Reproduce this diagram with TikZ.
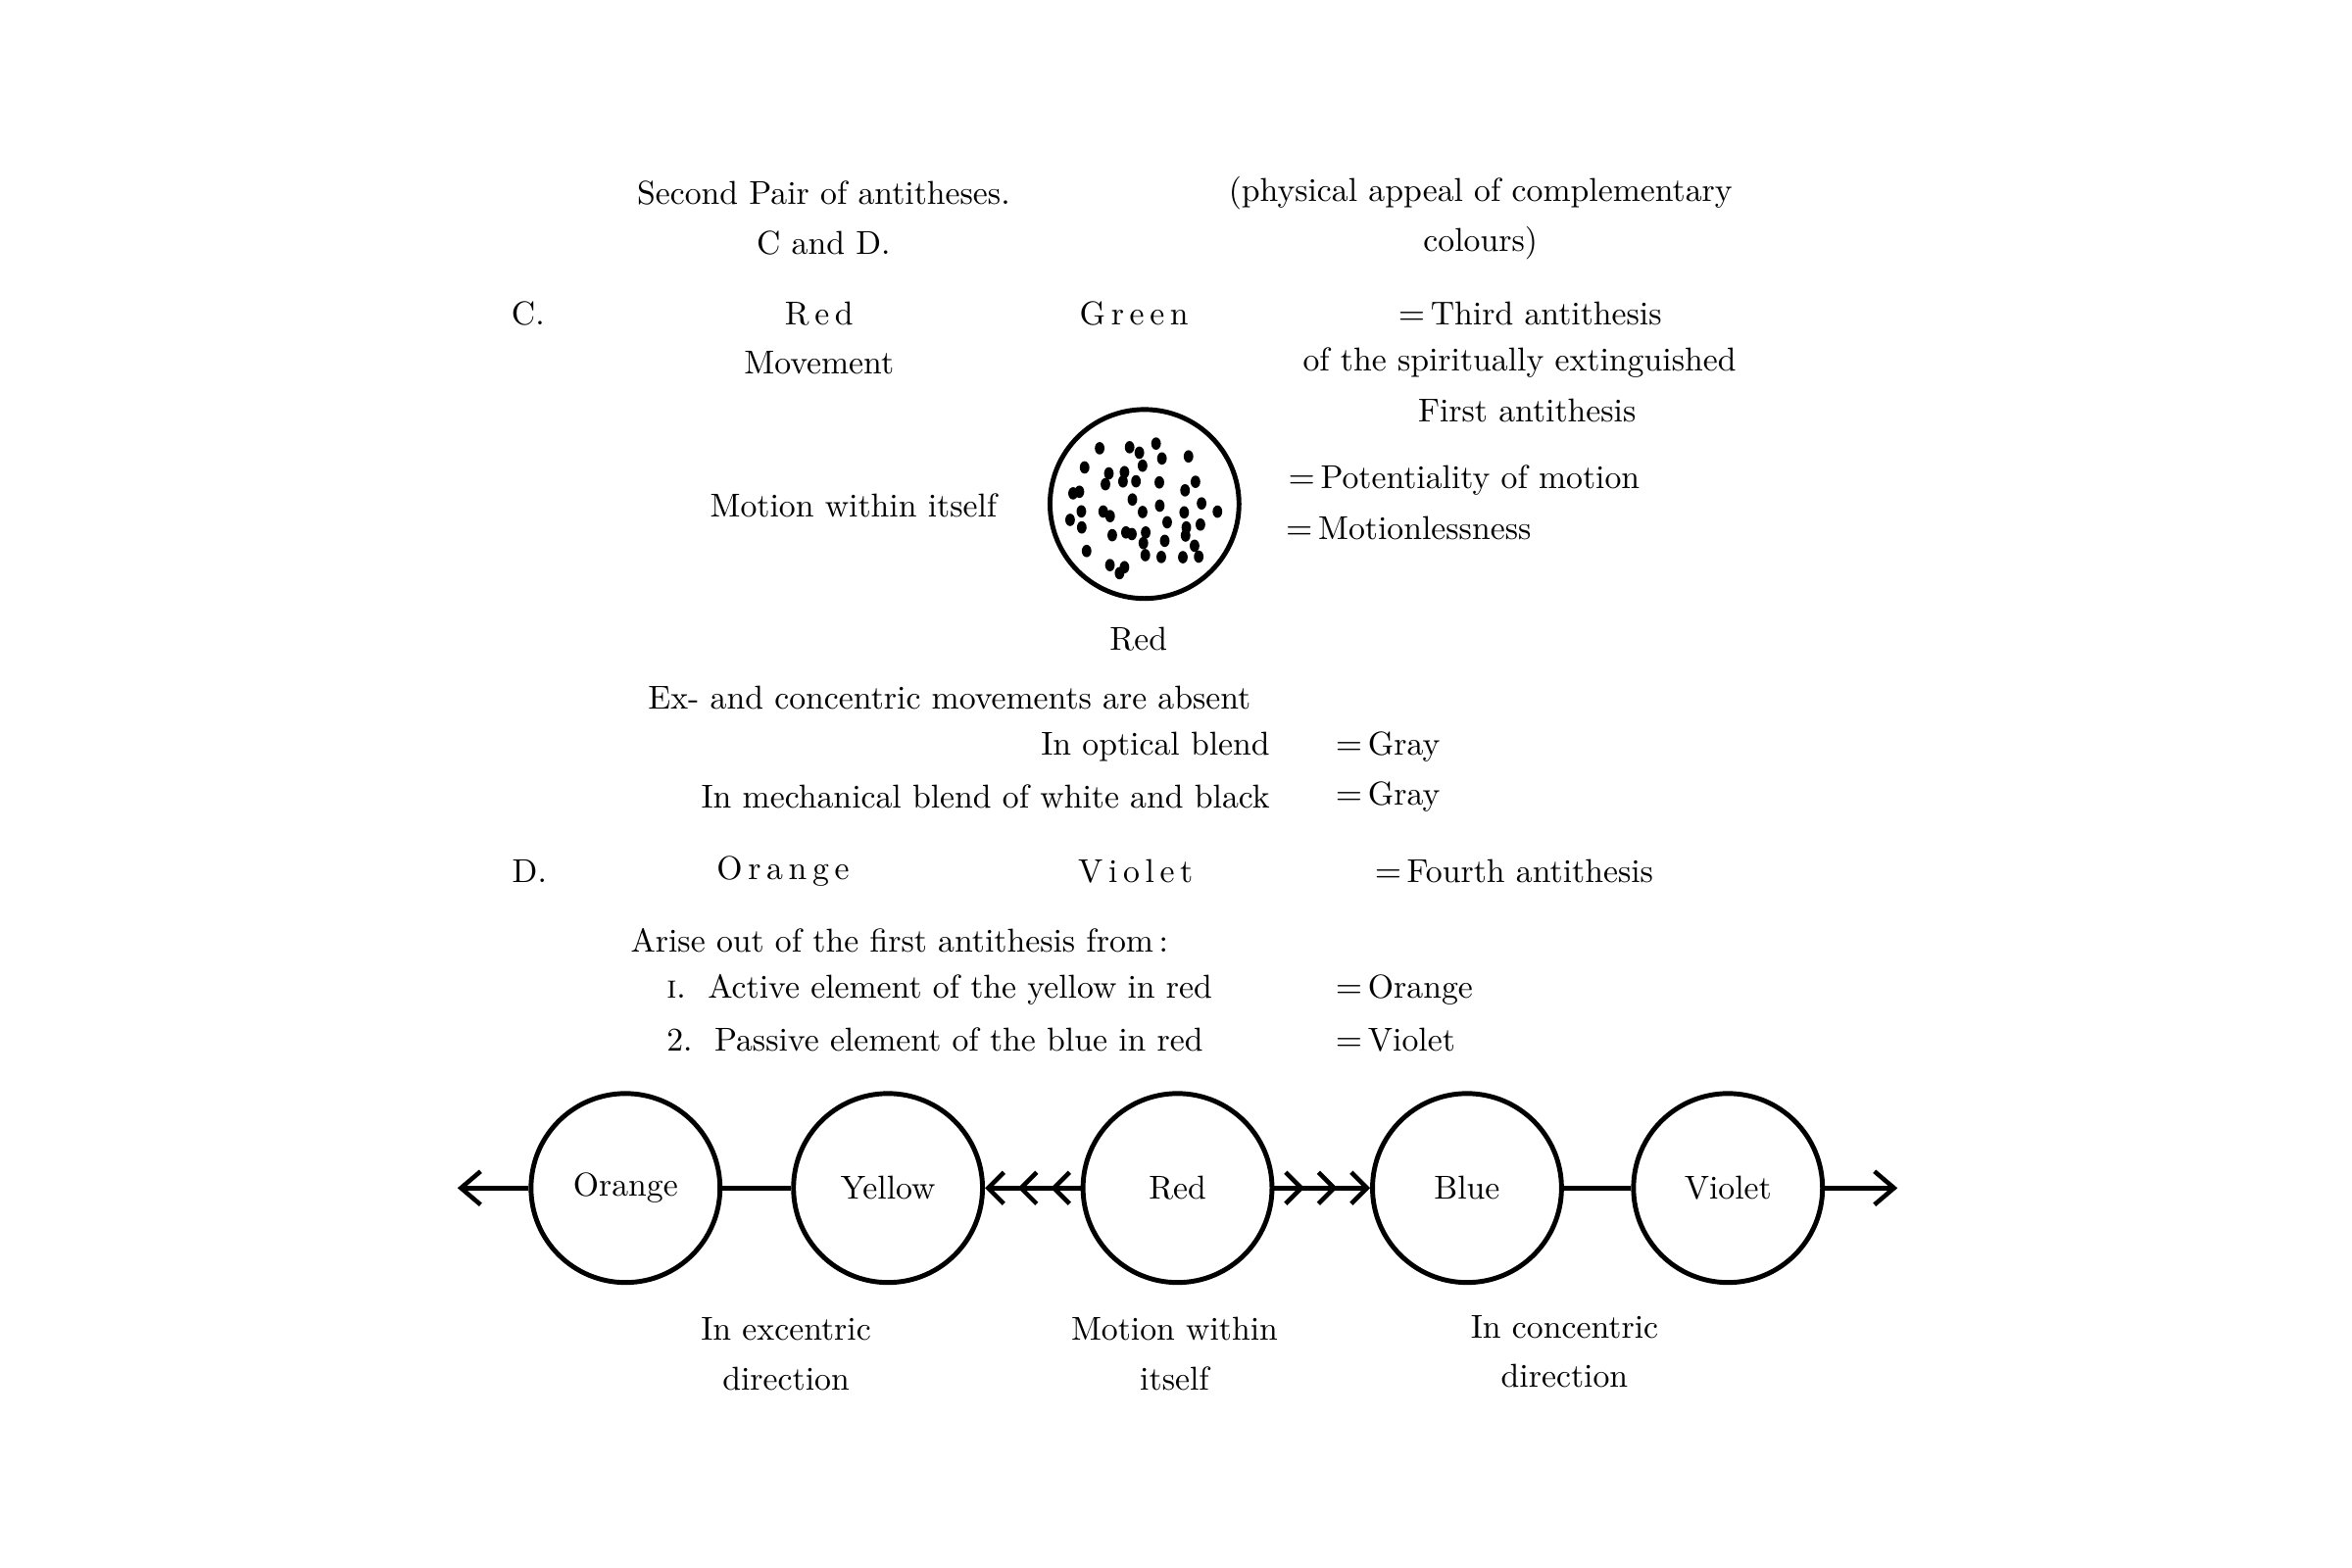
\documentclass[tikz,border=0pt]{standalone}
\usepackage{tikz}
\usetikzlibrary{arrows.meta}
\usetikzlibrary{shapes}
\usetikzlibrary{calc}

\tikzset{
  txt/.style={inner sep=0pt, font=\fontsize{9.6}{11}\selectfont},
  ring/.style={circle, draw, line width=1.4pt, minimum size=126*0.01531cm, inner sep=0pt, font=\fontsize{9.6}{11}\selectfont},
  chev/.style={line width=1.3pt, -{Straight Barb[length=1.6mm,width=3.2mm,sep=1.2mm]Straight Barb[length=1.6mm,width=3.2mm,sep=1.2mm]Straight Barb[length=1.6mm,width=3.2mm]}},
}

\begin{document}
\begin{tikzpicture}[x=0.01531cm, y=-0.01531cm]
    \useasboundingbox (0,0) rectangle (1568,1045);
    % heading
    \node[txt] (head1) at (549,129) {Second Pair of antitheses.};
    \node[txt] (head2) at (549,162) {C and D.};
    \node[txt] (phys1) at (987,129) {(physical appeal of complementary};
    \node[txt] (phys2) at (987,162) {colours)};
    % C
    \node[txt] (c) at (352,209) {C.};
    \node[txt] (cred) at (546,209) {R\,e\,d};
    \node[txt] (cgreen) at (756,209) {G\,r\,e\,e\,n};
    \node[txt] (third1) at (1020,209) {$=$\,Third antithesis};
    \node[txt] (third2) at (1013,242) {of the spiritually extinguished};
    \node[txt] (third3) at (1018,274) {First antithesis};
    \node[txt] (move) at (546,242) {Movement};
    \node[txt] (within) at (569,337) {Motion within itself};
    \node[circle, draw, line width=1.4pt, minimum size=126*0.01531cm] (dots) at (763,336) {};
    % dots on a jittered grid
    \pgfmathsetseed{7}
    \foreach \gx in {-4,...,4}{
      \foreach \gy in {-4,...,4}{
        \pgfmathsetmacro{\px}{\gx*13+6*rand}
        \pgfmathsetmacro{\py}{\gy*13+6*rand}
        \pgfmathparse{(\px*\px+\py*\py<52*52)?1:0}
        \ifnum\pgfmathresult=1
          \fill ($(dots)+(\px*0.01531cm,-\py*0.01531cm)$) ellipse (1.4pt and 1.8pt);
        \fi
      }
    }
    \node[txt] (pot) at (976,320) {$=$\,Potentiality of motion};
    \node[txt] (mless) at (939,352) {$=$\,Motionlessness};
    \node[txt] (redb) at (759,426) {Red};
    \node[txt] (exc) at (633,465) {Ex- and concentric movements are absent};
    \node[txt, anchor=east] (opt) at (847,498) {In optical blend};
    \node[txt, anchor=east] (mech) at (847,531) {In mechanical blend of white and black};
    \node[txt, anchor=west] (gray1) at (890,498) {$=$\,Gray};
    \node[txt, anchor=west] (gray2) at (890,531) {$=$\,Gray};
    % D
    \node[txt] (d) at (353,581) {D.};
    \node[txt] (dor) at (522,581) {O\,r\,a\,n\,g\,e};
    \node[txt] (dvi) at (757,581) {V\,i\,o\,l\,e\,t};
    \node[txt, anchor=west] (fourth) at (916,581) {$=$\,Fourth antithesis};
    \node[txt, anchor=west] (arise) at (420,627) {Arise out of the first antithesis from\,:};
    \node[txt, anchor=west] (act) at (444,660) {\textsc{i}.\ \ Active element of the yellow in red};
    \node[txt, anchor=west] (pas) at (444,693) {2.\ \ Passive element of the blue in red};
    \node[txt, anchor=west] (eor) at (890,660) {$=$\,Orange};
    \node[txt, anchor=west] (evi) at (890,693) {$=$\,Violet};
    % chain
    \node[ring] (orange) at (417,792) {Orange};
    \node[ring] (yellow) at (592,792) {Yellow};
    \node[ring] (red) at (785,792) {Red};
    \node[ring] (blue) at (978,792) {Blue};
    \node[ring] (violet) at (1152,792) {Violet};
    \coordinate (lend) at (305,792);
    \coordinate (rend) at (1265,792);
    \draw[line width=1.3pt, -{Straight Barb[length=2mm,width=3.4mm]}] (orange) -- (lend);
    \draw[line width=1.3pt, -{Straight Barb[length=2mm,width=3.4mm]}] (violet) -- (rend);
    \draw[line width=1.3pt] (orange) -- (yellow);
    \draw[line width=1.3pt] (blue) -- (violet);
    \draw[chev] (red) -- (yellow);
    \draw[chev] (red) -- (blue);
    \node[txt] (exc1) at (524,886) {In excentric};
    \node[txt] (exc2) at (524,919) {direction};
    \node[txt] (mot1) at (783,886) {Motion within};
    \node[txt] (mot2) at (783,919) {itself};
    \node[txt] (con1) at (1043,885) {In concentric};
    \node[txt] (con2) at (1043,917) {direction};
\end{tikzpicture}
\end{document}
